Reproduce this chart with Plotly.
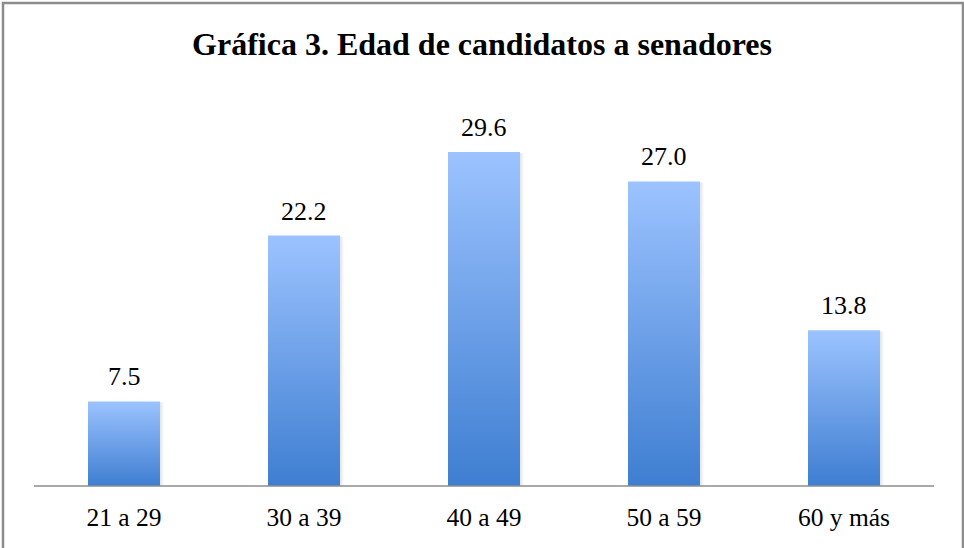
import plotly.graph_objects as go

categories = ["21 a 29", "30 a 39", "40 a 49", "50 a 59", "60 y más"]
values = [7.5, 22.2, 29.6, 27.0, 13.8]
value_labels = ["7.5", "22.2", "29.6", "27.0", "13.8"]
title_text = "<b>Gráfica 3. Edad de candidatos a senadores</b>"

W, H = 964, 548
ML, MR, MT, MB = 34, 30, 80, 62
BAR_W = 0.4
SERIF = "Liberation Serif"

fig = go.Figure()
for i, (c, v) in enumerate(zip(categories, values)):
    x0, x1 = i - BAR_W / 2, i + BAR_W / 2
    # faint soft shadow
    for dx, alpha in [(0.010, 0.05), (0.020, 0.04)]:
        fig.add_trace(go.Scatter(
            x=[x0 + dx, x1 + dx, x1 + dx, x0 + dx, x0 + dx],
            y=[-0.2, -0.2, v - 0.1, v - 0.1, -0.2],
            mode="lines", line=dict(width=0), fill="toself",
            fillcolor=f"rgba(0,0,0,{alpha})", hoverinfo="skip", showlegend=False))
    fig.add_trace(go.Scatter(
        x=[x0, x1, x1, x0, x0], y=[0, 0, v, v, 0],
        mode="lines", line=dict(width=0), fill="toself",
        fillgradient=dict(type="vertical",
                          colorscale=[[0, "#3E7ED1"], [1, "#9CC3FF"]]),
        hoverinfo="skip", showlegend=False))

annotations = [
    dict(x=i, y=v, xref="x", yref="y", text=t, showarrow=False,
         yanchor="bottom", yshift=8,
         font=dict(family=SERIF, size=26, color="#000"))
    for i, (v, t) in enumerate(zip(values, value_labels))
]

plot_w = W - ML - MR
plot_h = H - MT - MB

fig.update_layout(
    width=W, height=H,
    margin=dict(l=ML, r=MR, t=MT, b=MB),
    paper_bgcolor="white", plot_bgcolor="white",
    title=dict(text=title_text, x=0.5, xanchor="center", y=1 - 44 / H, yanchor="middle",
               font=dict(family=SERIF, size=32, color="#000")),
    xaxis=dict(range=[-0.5, len(categories) - 0.5], tickmode="array",
               tickvals=list(range(len(categories))), ticktext=categories,
               showgrid=False, zeroline=False, showline=False, ticks="",
               ticklabelstandoff=13,
               tickfont=dict(family=SERIF, size=25.5, color="#000")),
    yaxis=dict(range=[0, plot_h / 11.28], visible=False, showgrid=False, zeroline=False),
    annotations=annotations,
    shapes=[
        dict(type="line", xref="paper", yref="paper", x0=0, x1=1, y0=0, y1=0,
             line=dict(color="#8C8C8C", width=1.5), layer="above"),
        dict(type="rect", xref="paper", yref="paper",
             x0=(3 - ML) / plot_w, x1=(963 - ML) / plot_w,
             y0=-(MB + 10) / plot_h, y1=(plot_h + MT - 3) / plot_h,
             line=dict(color="#8C8C8C", width=2.5), fillcolor="rgba(0,0,0,0)"),
    ],
)

fig.write_html("out.html", config={"displayModeBar": False},
               post_script="document.body.style.margin='0';document.body.style.overflow='hidden';")
